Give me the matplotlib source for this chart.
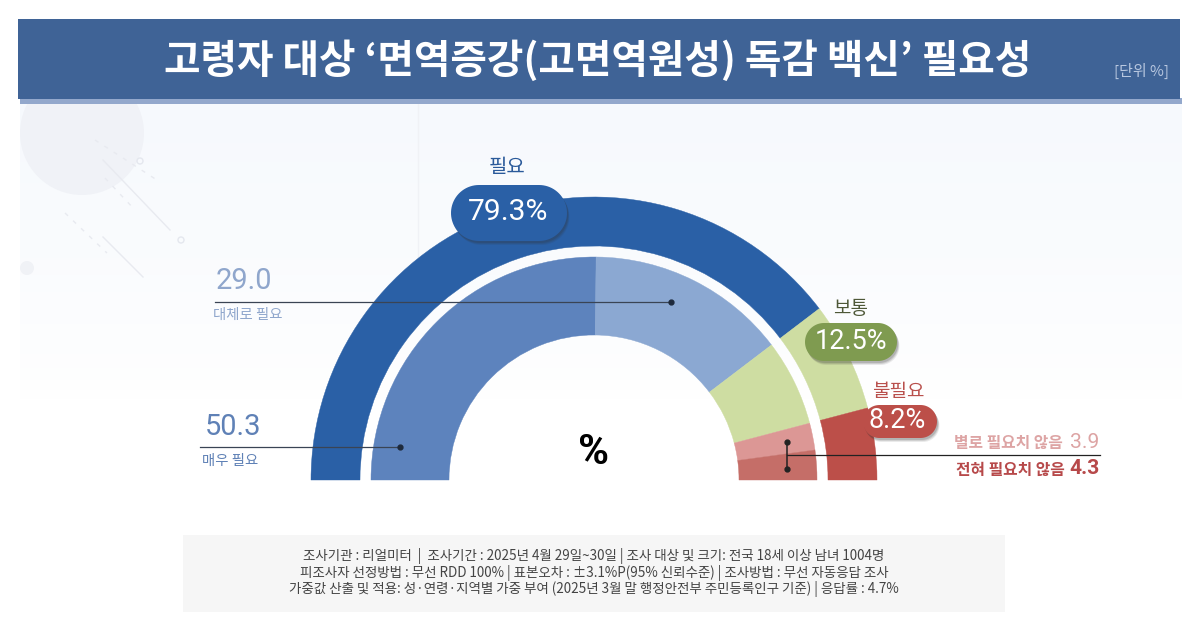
import numpy as np
import matplotlib
matplotlib.use("Agg")
import matplotlib.pyplot as plt
from matplotlib.patches import Wedge, Polygon, Rectangle, Circle

KR = ['Noto Sans CJK KR', 'DejaVu Sans']
NUM = ['Roboto', 'Noto Sans CJK KR']
plt.rcParams['font.family'] = KR

title = "고령자 대상 ‘면역증강(고면역원성) 독감 백신’ 필요성"
unit = "[단위 %]"
outer_labels = ["필요", "보통", "불필요"]
outer_values = [79.3, 12.5, 8.2]
inner_labels = ["매우 필요", "대체로 필요", "보통", "별로 필요치 않음", "전혀 필요치 않음"]
inner_values = [50.3, 29.0, 12.5, 3.9, 4.3]
footer = ["조사기관 : 리얼미터  |  조사기간 : 2025년 4월 29일~30일 | 조사 대상 및 크기: 전국 18세 이상 남녀 1004명",
          "피조사자 선정방법 : 무선 RDD 100% | 표본오차 : ±3.1%P(95% 신뢰수준) | 조사방법 : 무선 자동응답 조사",
          "가중값 산출 및 적용: 성·연령·지역별 가중 부여 (2025년 3월 말 행정안전부 주민등록인구 기준) | 응답률 : 4.7%"]

outer_colors = ["#2A60A6", "#CEDDA2", "#BC4F49"]
inner_colors = ["#5D83BD", "#8BA8D2", "#CEDDA2", "#DC9795", "#C56E68"]
pill_colors = ["#2A60A6", "#7F9B50", "#BC4F49"]

fig = plt.figure(figsize=(12, 6.27), dpi=100, facecolor="white")
ax = fig.add_axes([0, 0, 1, 1])

def px(p):
    return p * 0.72

# background gradient
grad = np.ones((300, 2, 4))
grad[..., 0] = 0.965
grad[..., 1] = 0.978
grad[..., 2] = 0.995
grad[..., 3] = np.linspace(1, 0, 300)[:, None] ** 0.8
ax.imshow(grad, extent=(20, 1182, 400, 104), aspect="auto", zorder=0)
ax.set_xlim(0, 1200)
ax.set_ylim(627, 0)
ax.axis("off")

# faint decoration
ax.add_patch(Circle((82, 133), 62, fc="#F0F2F7", ec="none", zorder=1))
ax.add_patch(Circle((27, 268), 7, fc="#F0F2F6", ec="none", zorder=1))
for a, b, ls in [((103, 160), (170, 230), "-"), ((65, 213), (107, 253), (0, (3, 5))),
                 ((103, 237), (143, 277), "-"), ((95, 140), (160, 182), (0, (3, 5))),
                 ((105, 178), (135, 210), (0, (3, 5)))]:
    ax.plot([a[0], b[0]], [a[1], b[1]], color="#E8EAF0", lw=1, ls=ls, zorder=1)
for c in [(140, 161), (181, 240)]:
    ax.add_patch(Circle(c, 3, fc="none", ec="#E4E7EE", lw=1, zorder=1))
ax.plot([418, 418], [104, 270], color="#F0F2F6", lw=1, zorder=1)

# banner
ax.add_patch(Rectangle((20, 98), 1162, 6, fc="#93A8CC", ec="none", zorder=2))
ax.add_patch(Rectangle((18, 19), 1162, 80, fc="#3F6396", ec="none", zorder=3))
ax.text(598, 61.5, title, color="white", fontsize=px(39.7), fontweight="bold", ha="center", va="center", zorder=4)
ax.text(1141, 71, unit, color="#B9C8E0", fontsize=px(15), ha="center", va="center", zorder=4)

# half-donut
cx, cy = 594, 480
def draw_ring(values, colors, r_out, r_in):
    total = sum(values)
    start = 180.0
    for v, c in zip(values, colors):
        end = start + v / total * 180.0
        ax.add_patch(Wedge((cx, cy), r_out, start, end, width=r_out - r_in, fc=c, ec=c, lw=0.3, zorder=5))
        start = end

draw_ring(outer_values, outer_colors, 283, 234)
draw_ring(inner_values, inner_colors, 223, 145)

# leader lines
line_c = "#3A4454"
ax.plot([215, 671], [302, 302], color=line_c, lw=0.9, zorder=6)
ax.plot([671], [302], "o", color="#1E2A3C", ms=3.5, zorder=6)
ax.plot([200, 400], [447, 447], color=line_c, lw=0.9, zorder=6)
ax.plot([400], [447], "o", color="#1E2A3C", ms=3.5, zorder=6)
ax.plot([787, 1100], [455, 455], color="#222222", lw=0.9, zorder=6)
ax.plot([787, 787], [442, 469], color="#222222", lw=1.1, zorder=6)
ax.plot([787, 787], [442, 469], "o", color="#222222", ms=3.5, zorder=6)

# pills
def pill_outline(x0, x1, y0, y1):
    r = (y1 - y0) / 2
    ym = (y0 + y1) / 2
    t = np.linspace(-np.pi / 2, np.pi / 2, 40)
    right = np.column_stack([x1 - r + r * np.cos(t), ym + r * np.sin(t)])
    left = np.column_stack([x0 + r - r * np.cos(t), ym - r * np.sin(t)])
    return np.vstack([right, left])

def pill(x0, x1, y0, y1, color, text, fs, tx):
    for off, alpha in [(4, 0.10), (3, 0.14), (2, 0.18)]:
        ax.add_patch(Polygon(pill_outline(x0 + off * 0.6, x1 + off * 0.6, y0 + off, y1 + off),
                             fc="#333333", alpha=alpha, ec="none", zorder=7))
    ax.add_patch(Polygon(pill_outline(x0, x1, y0, y1), fc=color, ec="none", zorder=8))
    ax.text(tx, (y0 + y1) / 2 - 0.5, text, color="white", fontsize=px(fs), family=NUM,
            ha="center", va="center", zorder=9)

pill(451, 567, 185, 241, pill_colors[0], f"{outer_values[0]}%", 30, 508)
pill(805, 897, 323, 361, pill_colors[1], f"{outer_values[1]}%", 27, 851)
pill(863, 937, 405, 438, pill_colors[2], f"{outer_values[2]}%", 27, 897)

ax.text(507, 168, outer_labels[0], color="#2A5A9A", fontsize=px(20), ha="center", va="center", zorder=9)
ax.text(851, 308, outer_labels[1], color="#4E5838", fontsize=px(19), ha="center", va="center", zorder=9)
ax.text(898, 392, outer_labels[2], color="#B9504C", fontsize=px(19), ha="center", va="center", zorder=9)

# side labels
ax.text(216, 281, f"{inner_values[1]:.1f}", color="#8FA6CC", fontsize=px(29), family=NUM, ha="left", va="center", zorder=9)
ax.text(213, 315, inner_labels[1], color="#8FA6CC", fontsize=px(14.4), ha="left", va="center", zorder=9)
ax.text(205, 427, f"{inner_values[0]:.1f}", color="#5F81B6", fontsize=px(29), family=NUM, ha="left", va="center", zorder=9)
ax.text(202, 461, inner_labels[0], color="#5F81B6", fontsize=px(14.4), ha="left", va="center", zorder=9)

ax.text(1063, 443, inner_labels[3], color="#DDA4A4", fontsize=px(15.8), ha="right", va="center", fontweight="bold", zorder=9)
ax.text(1099, 442, f"{inner_values[3]}", color="#DDA4A4", fontsize=px(21), family=NUM, ha="right", va="center", zorder=9)
ax.text(1065, 470, inner_labels[4], color="#B7494A", fontsize=px(15.8), ha="right", va="center", fontweight="bold", zorder=9)
ax.text(1100, 469, f"{inner_values[4]}", color="#B7494A", fontsize=px(21), family=NUM, fontweight="bold", ha="right", va="center", zorder=9)

ax.text(594, 453, "%", color="black", fontsize=px(42), fontweight="bold", family=NUM, ha="center", va="center", zorder=9)

# footer
ax.add_patch(Rectangle((183, 535), 822, 77, fc="#F6F6F6", ec="none", zorder=2))
for y, line in zip([556, 573, 589], footer):
    ax.text(594, y, line, color="#444444", fontsize=px(13.5), ha="center", va="center", zorder=4)

fig.savefig("out.png", dpi=100, facecolor="white")
